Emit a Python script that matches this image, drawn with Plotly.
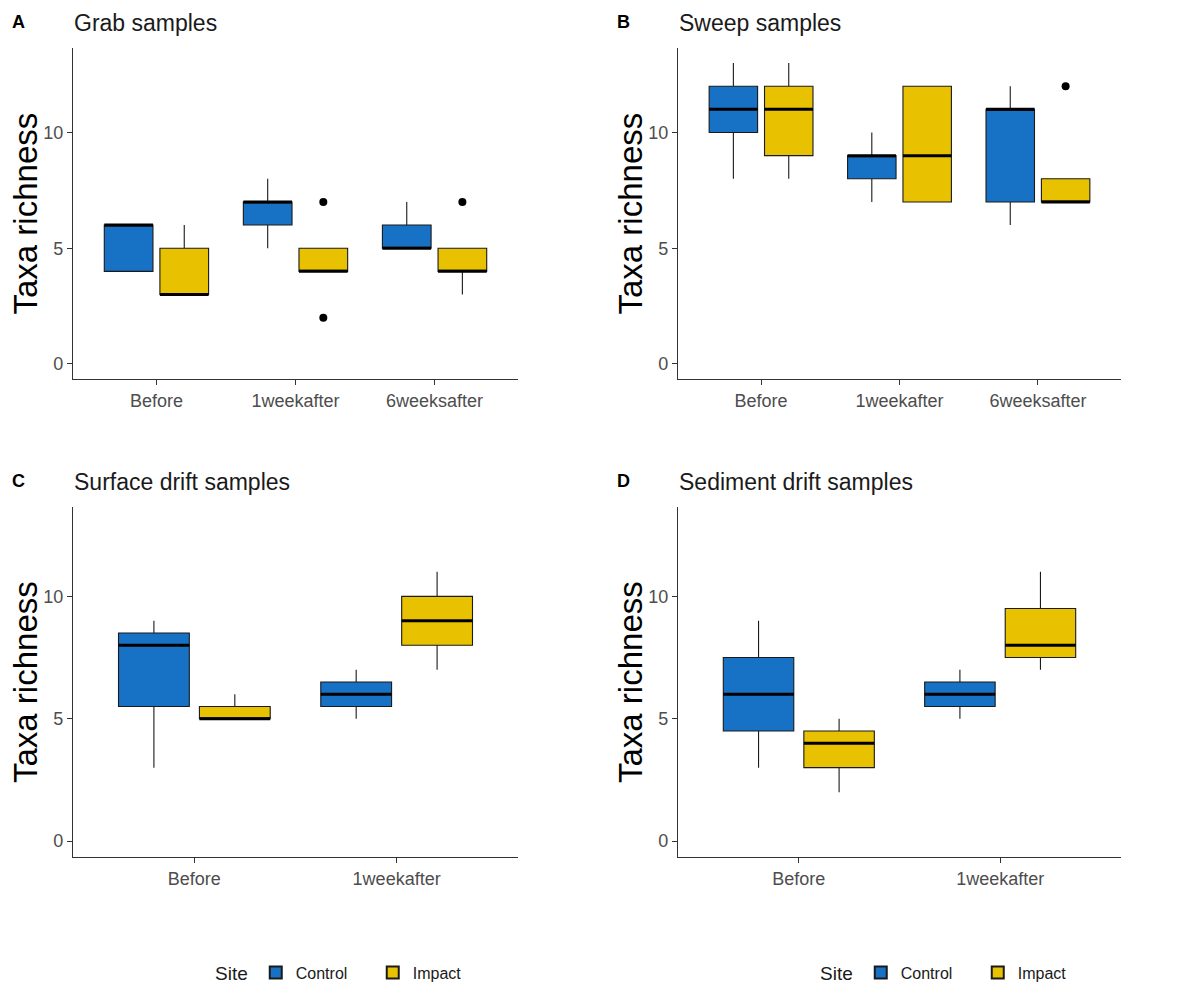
import plotly.graph_objects as go

OFF = 8
W, H = 1202, 988

cats3 = ["Before", "1weekafter", "6weeksafter"]
cats2 = ["Before", "1weekafter"]

# Grab samples (A)
grab_control_q1 = [4, 6, 5]
grab_control_med = [6, 7, 5]
grab_control_q3 = [6, 7, 6]
grab_control_lo = [4, 5, 5]
grab_control_hi = [6, 8, 7]
grab_impact_q1 = [3, 4, 4]
grab_impact_med = [3, 4, 4]
grab_impact_q3 = [5, 5, 5]
grab_impact_lo = [3, 4, 3]
grab_impact_hi = [6, 5, 5]
grab_impact_out_x = ["1weekafter", "1weekafter", "6weeksafter"]
grab_impact_out_y = [7, 2, 7]

# Sweep samples (B)
sweep_control_q1 = [10, 8, 7]
sweep_control_med = [11, 9, 11]
sweep_control_q3 = [12, 9, 11]
sweep_control_lo = [8, 7, 6]
sweep_control_hi = [13, 10, 12]
sweep_impact_q1 = [9, 7, 7]
sweep_impact_med = [11, 9, 7]
sweep_impact_q3 = [12, 12, 8]
sweep_impact_lo = [8, 7, 7]
sweep_impact_hi = [13, 12, 8]
sweep_impact_out_x = ["6weeksafter"]
sweep_impact_out_y = [12]

# Surface drift samples (C)
surface_control_q1 = [5.5, 5.5]
surface_control_med = [8, 6]
surface_control_q3 = [8.5, 6.5]
surface_control_lo = [3, 5]
surface_control_hi = [9, 7]
surface_impact_q1 = [5, 8]
surface_impact_med = [5, 9]
surface_impact_q3 = [5.5, 10]
surface_impact_lo = [5, 7]
surface_impact_hi = [6, 11]

# Sediment drift samples (D)
sediment_control_q1 = [4.5, 5.5]
sediment_control_med = [6, 6]
sediment_control_q3 = [7.5, 6.5]
sediment_control_lo = [3, 5]
sediment_control_hi = [9, 7]
sediment_impact_q1 = [3, 7.5]
sediment_impact_med = [4, 8]
sediment_impact_q3 = [4.5, 9.5]
sediment_impact_lo = [2, 7]
sediment_impact_hi = [5, 11]

sites = ["Control", "Impact"]
colors = {"Control": "#1772C6", "Impact": "#E8C200"}

panels = [
    dict(letter="A", title="Grab samples", cats=cats3, ax="", legend="legend",
         data={"Control": (grab_control_q1, grab_control_med, grab_control_q3, grab_control_lo, grab_control_hi, None),
               "Impact": (grab_impact_q1, grab_impact_med, grab_impact_q3, grab_impact_lo, grab_impact_hi,
                          (grab_impact_out_x, grab_impact_out_y))}),
    dict(letter="B", title="Sweep samples", cats=cats3, ax="2", legend="legend2",
         data={"Control": (sweep_control_q1, sweep_control_med, sweep_control_q3, sweep_control_lo, sweep_control_hi, None),
               "Impact": (sweep_impact_q1, sweep_impact_med, sweep_impact_q3, sweep_impact_lo, sweep_impact_hi,
                          (sweep_impact_out_x, sweep_impact_out_y))}),
    dict(letter="C", title="Surface drift samples", cats=cats2, ax="3", legend=None,
         data={"Control": (surface_control_q1, surface_control_med, surface_control_q3, surface_control_lo, surface_control_hi, None),
               "Impact": (surface_impact_q1, surface_impact_med, surface_impact_q3, surface_impact_lo, surface_impact_hi, None)}),
    dict(letter="D", title="Sediment drift samples", cats=cats2, ax="4", legend=None,
         data={"Control": (sediment_control_q1, sediment_control_med, sediment_control_q3, sediment_control_lo, sediment_control_hi, None),
               "Impact": (sediment_impact_q1, sediment_impact_med, sediment_impact_q3, sediment_impact_lo, sediment_impact_hi, None)}),
]

# window-pixel geometry of panels: (x0, x1, ytop, ybottom)
geom = {
    "A": (73, 518, 48, 379),
    "B": (678, 1121, 48, 379),
    "C": (73, 518, 507, 857),
    "D": (678, 1121, 507, 857),
}


def px(x):
    return (x - OFF) / W


def py(y):
    return 1 - (y - OFF) / H


fig = go.Figure()
FONT = "Liberation Sans, Arial, sans-serif"

for p in panels:
    xa = "x" + p["ax"]
    ya = "y" + p["ax"]
    for site in sites:
        q1, med, q3, lo, hi, out = p["data"][site]
        show = p["legend"] is not None
        fig.add_trace(go.Box(
            x=p["cats"], q1=q1, median=med, q3=q3, lowerfence=lo, upperfence=hi,
            name=site, orientation="v", offsetgroup=site, legendgroup=site,
            fillcolor=colors[site], line=dict(color="#1a1a1a", width=1.1),
            whiskerwidth=0, boxpoints=False, showlegend=show,
            legend=p["legend"] if show else "legend",
            xaxis=xa, yaxis=ya, hoverinfo="skip"))
        # thick median line overlay
        fig.add_trace(go.Box(
            x=p["cats"], q1=med, median=med, q3=med, lowerfence=med, upperfence=med,
            name=site, orientation="v", offsetgroup=site, legendgroup=site,
            fillcolor="rgba(0,0,0,0)", line=dict(color="black", width=3),
            whiskerwidth=0, boxpoints=False, showlegend=False,
            xaxis=xa, yaxis=ya, hoverinfo="skip"))
    # outlier points, dodged like the boxes
    if p["ax"] in ("", "2"):
        for site in sites:
            out = p["data"][site][5]
            if out is None:
                ox, oy = p["cats"], [None] * len(p["cats"])
            else:
                ox, oy = out
            fig.add_trace(go.Scatter(
                x=ox, y=oy, mode="markers", offsetgroup=site, showlegend=False,
                marker=dict(color="black", size=8), xaxis=xa, yaxis=ya,
                hoverinfo="skip", cliponaxis=False))

layout = dict(
    width=W, height=H, margin=dict(l=0, r=0, t=0, b=0, autoexpand=False),
    paper_bgcolor="white", plot_bgcolor="white",
    boxmode="group", boxgap=0.2, boxgroupgap=0.125,
    scattermode="group", scattergap=0.2,
    font=dict(family=FONT, color="#1a1a1a"),
    showlegend=True,
)

annotations = []
for p in panels:
    x0, x1, yt, yb = geom[p["letter"]]
    ax = p["ax"]
    layout["xaxis" + ax] = dict(
        domain=[px(x0), px(x1)], anchor="y" + ax, type="category",
        categoryorder="array", categoryarray=p["cats"],
        showline=True, linecolor="#333333", linewidth=1.2,
        ticks="outside", ticklen=5, tickcolor="#333333", tickwidth=1.2,
        tickfont=dict(size=18, color="#4d4d4d", family=FONT),
        showgrid=False, zeroline=False, fixedrange=True,
        range=[-0.6, len(p["cats"]) - 0.4],
    )
    layout["yaxis" + ax] = dict(
        domain=[py(yb), py(yt)], anchor="x" + ax,
        range=[-0.65, 13.65], tickvals=[0, 5, 10],
        showline=True, linecolor="#333333", linewidth=1.2,
        ticks="outside", ticklen=5, tickcolor="#333333", tickwidth=1.2,
        tickfont=dict(size=18, color="#4d4d4d", family=FONT),
        showgrid=False, zeroline=False, fixedrange=True,
    )
    # panel letter
    annotations.append(dict(
        text="<b>%s</b>" % p["letter"], xref="paper", yref="paper",
        x=px(x0 - 63), y=py(yt - 26), xanchor="left", yanchor="middle",
        showarrow=False, font=dict(size=18, color="black", family=FONT)))
    # panel title
    annotations.append(dict(
        text=p["title"], xref="paper", yref="paper",
        x=px(x0 - 1), y=py(yt - 25), xanchor="left", yanchor="middle",
        showarrow=False, font=dict(size=23, color="#1a1a1a", family=FONT)))
    # y axis title
    annotations.append(dict(
        text="Taxa richness", xref="paper", yref="paper", textangle=-90,
        x=px(x0 - 48), y=py((yt + yb) / 2), xanchor="center", yanchor="middle",
        showarrow=False, font=dict(size=33, color="black", family=FONT)))

layout["annotations"] = annotations

leg_common = dict(
    orientation="h", yanchor="middle", xanchor="left",
    title=dict(text="Site", side="left", font=dict(size=19, color="#1a1a1a", family=FONT)),
    font=dict(size=16, color="#1a1a1a", family=FONT),
    bgcolor="rgba(0,0,0,0)", itemsizing="constant", tracegroupgap=0,
    entrywidth=72, entrywidthmode="pixels",
)
layout["legend"] = dict(leg_common, x=px(213), y=py(973))
layout["legend2"] = dict(leg_common, x=px(818), y=py(973))

fig.update_layout(**layout)
fig.write_html("out.html")
